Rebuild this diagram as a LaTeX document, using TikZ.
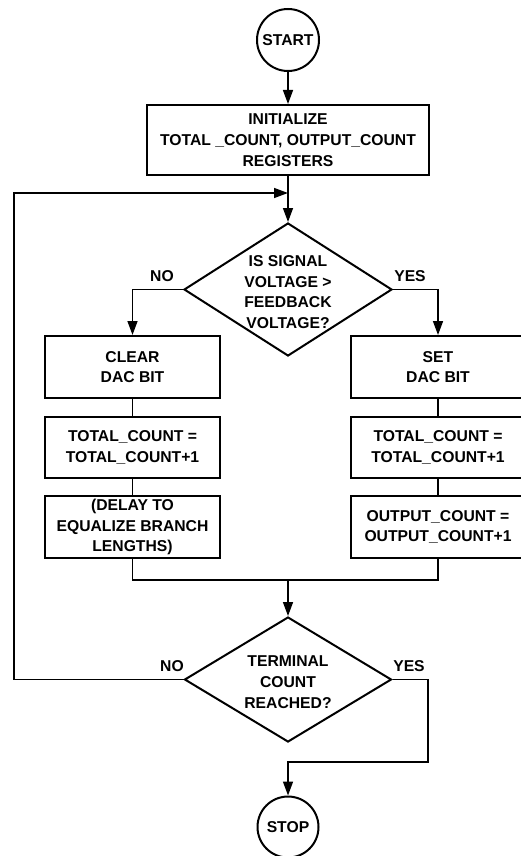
\documentclass[tikz,border=0pt]{standalone}
\usepackage{fontspec}
\setmainfont{Liberation Sans}
\usetikzlibrary{shapes.geometric,arrows.meta}
\begin{document}
\begin{tikzpicture}[x=1pt,y=-1pt,
  txt/.style={font=\fontsize{15.7}{20.8}\selectfont\bfseries, align=center, inner sep=0pt},
  box/.style={draw, line width=2pt, rectangle, inner sep=0pt, txt},
  term/.style={draw, line width=2pt, circle, inner sep=0pt, txt},
  dia/.style={draw, line width=2pt, diamond, inner sep=0pt},
  conn/.style={line width=1.5pt},
  arr/.style={conn, -{Triangle[length=14pt,width=10pt]}}]
\clip (0,0) rectangle (521,856);
\fill[white] (0,0) rectangle (521,856);

\node[term, minimum size=62pt] (start) at (288,40) {START};
\node[box, minimum width=282pt, minimum height=70pt] (init) at (288,140)
  {INITIALIZE\\TOTAL \_COUNT, OUTPUT\_COUNT\\REGISTERS};

\node[dia, minimum width=208pt, minimum height=133pt] (d1) at (288,289.5) {};
\node[txt] (d1t) at (288,292) {IS SIGNAL\\VOLTAGE >\\FEEDBACK\\VOLTAGE?};

\node[box, minimum width=175pt, minimum height=62pt] (L1) at (132.5,367) {CLEAR\\DAC BIT};
\node[box, minimum width=175pt, minimum height=61pt] (L2) at (132.5,447.5) {TOTAL\_COUNT =\\TOTAL\_COUNT+1};
\node[box, minimum width=175pt, minimum height=62pt] (L3) at (132.5,527) {(DELAY TO\\EQUALIZE BRANCH\\LENGTHS)};

\node[box, minimum width=175pt, minimum height=62pt] (R1) at (438,367) {SET\\DAC BIT};
\node[box, minimum width=175pt, minimum height=61pt] (R2) at (438,447.5) {TOTAL\_COUNT =\\TOTAL\_COUNT+1};
\node[box, minimum width=175pt, minimum height=62pt] (R3) at (438,527) {OUTPUT\_COUNT =\\OUTPUT\_COUNT+1};

\node[dia, minimum width=207pt, minimum height=125pt] (d2) at (288,679.5) {};
\node[txt] (d2t) at (288,682) {TERMINAL\\COUNT\\REACHED?};

\node[term, minimum size=61pt] (stop) at (288,827) {STOP};

\node[txt] (no1) at (162,276) {NO};
\node[txt] (yes1) at (410,276) {YES};
\node[txt] (no2) at (172,666) {NO};
\node[txt] (yes2) at (409,666) {YES};

\coordinate (j) at (288,193);
\coordinate (lx) at (14,193);
\coordinate (m) at (288,580);
\coordinate (r) at (428,762);

\draw[arr] (start.south) -- (init.north);
\draw[arr] (init.south) -- (d1.north);
\draw[arr] (d1.west) -| (L1.north);
\draw[arr] (d1.east) -| (R1.north);
\draw[conn] (L1.south) -- (L2.north);
\draw[conn] (L2.south) -- (L3.north);
\draw[conn] (R1.south) -- (R2.north);
\draw[conn] (R2.south) -- (R3.north);
\draw[conn] (L3.south) |- (m) -| (R3.south);
\draw[arr] (m) -- (d2.north);
\draw[arr] (d2.west) -| (lx) -- (j);
\draw[arr] (d2.east) -| (r) -| (stop.north);
\end{tikzpicture}
\end{document}
